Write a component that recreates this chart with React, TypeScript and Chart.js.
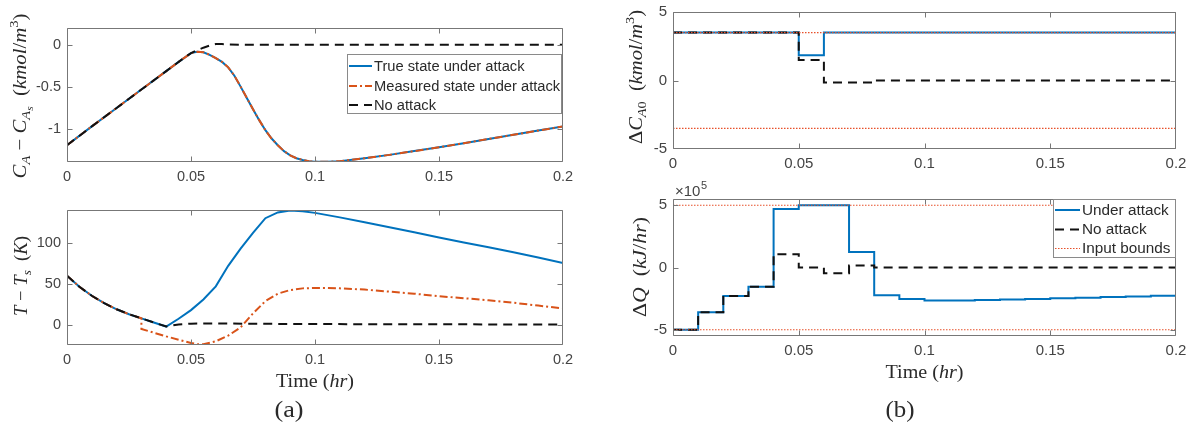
import React, { useEffect, useRef } from "react";
import { Chart, registerables } from "chart.js";

Chart.register(...registerables);

const PAGE_W = 1192;
const PAGE_H = 431;

// ---------------- shared time axis ----------------
const timeTicks = [0, 0.05, 0.1, 0.15, 0.2];

// ---------------- (a) top: C_A - C_As ----------------
const caTime = [0, 0.01, 0.02, 0.03, 0.04, 0.045, 0.05, 0.0525, 0.055, 0.0575, 0.06, 0.0625, 0.065, 0.0675, 0.07, 0.0725, 0.075, 0.0775, 0.08, 0.0825, 0.085, 0.0875, 0.09, 0.0925, 0.095, 0.0975, 0.1, 0.105, 0.11, 0.12, 0.13, 0.14, 0.15, 0.16, 0.17, 0.18, 0.19, 0.2];
const caTrue = [-1.2, -0.975, -0.755, -0.535, -0.315, -0.205, -0.1, -0.085, -0.09, -0.12, -0.16, -0.205, -0.27, -0.37, -0.5, -0.635, -0.77, -0.9, -1.02, -1.12, -1.2, -1.27, -1.32, -1.355, -1.375, -1.39, -1.397, -1.398, -1.39, -1.355, -1.315, -1.27, -1.225, -1.175, -1.125, -1.075, -1.025, -0.975];
const caMeasured = [-1.2, -0.975, -0.755, -0.535, -0.315, -0.205, -0.1, -0.085, -0.09, -0.12, -0.16, -0.205, -0.27, -0.37, -0.5, -0.635, -0.77, -0.9, -1.02, -1.12, -1.2, -1.27, -1.32, -1.355, -1.375, -1.39, -1.397, -1.398, -1.39, -1.355, -1.315, -1.27, -1.225, -1.175, -1.125, -1.075, -1.025, -0.975];
const caNoAttackTime = [0, 0.01, 0.02, 0.03, 0.04, 0.048, 0.05, 0.0525, 0.055, 0.0575, 0.06, 0.0625, 0.065, 0.07, 0.08, 0.1, 0.15, 0.2];
const caNoAttack = [-1.2, -0.975, -0.755, -0.535, -0.315, -0.14, -0.1, -0.065, -0.035, -0.01, 0.008, 0.008, 0.004, 0.001, 0, 0, 0, 0];
const caTicks = [-1, -0.5, 0];

// ---------------- (a) bottom: T - Ts ----------------
const tempTime = [0, 0.005, 0.01, 0.015, 0.02, 0.025, 0.03, 0.035, 0.04, 0.045, 0.05, 0.055, 0.06, 0.065, 0.07, 0.075, 0.08, 0.085, 0.09, 0.095, 0.1, 0.11, 0.12, 0.13, 0.14, 0.15, 0.16, 0.17, 0.18, 0.19, 0.2];
const tempTrue = [60, 46.5, 35.5, 26.5, 19, 13, 8, 3, -2, 7.5, 18, 31, 47, 72, 93, 112, 130, 137, 139.5, 138.5, 136.5, 131, 125, 119, 113, 106.5, 100.5, 94.5, 88.5, 82, 75.5];
const tempMeasuredTime = [0, 0.005, 0.01, 0.015, 0.02, 0.025, 0.03, 0.03, 0.035, 0.04, 0.045, 0.05, 0.0525, 0.055, 0.06, 0.065, 0.07, 0.075, 0.08, 0.085, 0.09, 0.095, 0.1, 0.105, 0.11, 0.12, 0.13, 0.14, 0.15, 0.16, 0.17, 0.18, 0.19, 0.2];
const tempMeasured = [60, 46.5, 35.5, 26.5, 19, 13, 8, -5, -9.5, -14, -18, -22, -23.5, -23.5, -20, -13, -3, 14, 29, 38, 42.5, 44.5, 45, 45, 44.5, 43, 40.5, 38, 35, 32.5, 30, 27, 23.5, 20];
const tempNoAttackTime = [0, 0.005, 0.01, 0.015, 0.02, 0.025, 0.03, 0.035, 0.04, 0.045, 0.05, 0.06, 0.08, 0.1, 0.15, 0.2];
const tempNoAttack = [60, 46.5, 35.5, 26.5, 19, 13, 8, 3, -2, 0.5, 1.5, 1.8, 1.3, 1, 0.7, 0.5];
const tempTicks = [0, 50, 100];

// ---------------- (b) top: ΔC_A0 (zero-order hold) ----------------
const cInTime = [0, 0.05, 0.06, 0.2];
const cInUnder = [3.5, 1.85, 3.5, 3.5];
const cInNoTime = [0, 0.05, 0.06, 0.08, 0.2];
const cInNo = [3.5, 1.5, -0.15, 0, 0];
const boundTime = [0, 0.2];
const cInUpper = [3.5, 3.5];
const cInLower = [-3.5, -3.5];
const cInTicks = [-5, 0, 5];

// ---------------- (b) bottom: ΔQ, in units of 10^5 kJ/hr ----------------
const qTime = [0, 0.01, 0.02, 0.03, 0.04, 0.05, 0.06, 0.07, 0.08, 0.09, 0.1, 0.11, 0.12, 0.13, 0.14, 0.15, 0.16, 0.17, 0.18, 0.19, 0.2];
const qUnder = [-5, -3.6, -2.28, -1.55, 4.7, 5, 5, 1.25, -2.22, -2.52, -2.65, -2.64, -2.6, -2.56, -2.52, -2.47, -2.42, -2.37, -2.32, -2.26, -2.2];
const qNo = [-5, -3.6, -2.28, -1.55, 1.07, 0, -0.46, 0.16, 0, 0, 0, 0, 0, 0, 0, 0, 0, 0, 0, 0, 0];
const qUpper = [5, 5];
const qLower = [-5, -5];
const qTicks = [-5, 0, 5];

// ---------------- styles ----------------
const BLUE = "#0072BD";
const ORANGE = "#D95319";
const BLACK = "#111111";
const RED = "#E8502A";
const AXIS = "#777777";
const TICKTEXT = "#444444";
const TITLE = "#2a2a2a";
const SANS = '"Liberation Sans", Arial, Helvetica, sans-serif';
const SERIF = '"Liberation Serif", "Times New Roman", serif';

const solidBlue = { borderColor: BLUE, borderWidth: 2, borderDash: [] as number[] };
const dashDotOrange = { borderColor: ORANGE, borderWidth: 2, borderDash: [8, 3, 2, 3] };
const dashedBlack = { borderColor: BLACK, borderWidth: 2, borderDash: [9, 6] };
const dottedRed = { borderColor: RED, borderWidth: 1.2, borderDash: [1.5, 1.5] };

const pts = (xs: number[], ys: number[]) => xs.map((x, i) => ({ x, y: ys[i] }));

type Seg = { t: string; it?: boolean; lv?: number };

const caLabel: Seg[] = [
  { t: "C", it: true }, { t: "A", it: true, lv: 1 }, { t: " \u2212 " },
  { t: "C", it: true }, { t: "A", it: true, lv: 1 }, { t: "s", it: true, lv: 2 },
  { t: "  (" }, { t: "kmol", it: true }, { t: "/" }, { t: "m", it: true }, { t: "3", lv: -1 }, { t: ")" },
];
const tempLabel: Seg[] = [
  { t: "T", it: true }, { t: " \u2212 " }, { t: "T", it: true }, { t: "s", it: true, lv: 1 },
  { t: "  (" }, { t: "K", it: true }, { t: ")" },
];
const cInLabel: Seg[] = [
  { t: "\u0394" }, { t: "C", it: true }, { t: "A", it: true, lv: 1 }, { t: "0", lv: 1 },
  { t: "  (" }, { t: "kmol", it: true }, { t: "/" }, { t: "m", it: true }, { t: "3", lv: -1 }, { t: ")" },
];
const qLabel: Seg[] = [
  { t: "\u0394" }, { t: "Q", it: true }, { t: "  (" }, { t: "kJ", it: true }, { t: "/" }, { t: "hr", it: true }, { t: ")" },
];
const timeLabel: Seg[] = [{ t: "Time (" }, { t: "hr", it: true }, { t: ")" }];

function segScale(s: Seg) {
  if (s.lv === 1 || s.lv === -1) return 0.7;
  if (s.lv === 2) return 0.55;
  return 1;
}
function segShift(s: Seg, size: number) {
  if (s.lv === 1) return 0.2 * size;
  if (s.lv === 2) return 0.36 * size;
  if (s.lv === -1) return -0.42 * size;
  return 0;
}
function segFont(s: Seg, size: number) {
  return `${s.it ? "italic " : ""}${(size * segScale(s)).toFixed(2)}px ${SERIF}`;
}

function drawRich(ctx: CanvasRenderingContext2D, segs: Seg[], cx: number, baseline: number, size: number, len: number, vertical: boolean) {
  ctx.save();
  let w = 0;
  const widths: number[] = [];
  for (const s of segs) {
    ctx.font = segFont(s, size);
    const m = ctx.measureText(s.t).width;
    widths.push(m);
    w += m;
  }
  if (vertical) {
    ctx.translate(baseline, cx);
    ctx.rotate(-Math.PI / 2);
  } else {
    ctx.translate(cx, baseline);
  }
  const k = len > 0 ? len / w : 1;
  ctx.scale(k, 1);
  ctx.fillStyle = TITLE;
  ctx.textAlign = "left";
  ctx.textBaseline = "alphabetic";
  let x = -w / 2;
  segs.forEach((s, i) => {
    ctx.font = segFont(s, size);
    ctx.fillText(s.t, x, segShift(s, size));
    x += widths[i];
  });
  ctx.restore();
}

type LegendItem = { label: string; y: number; style: { borderColor: string; borderWidth: number; borderDash: number[] } };
type LegendSpec = { l: number; t: number; r: number; b: number; sx0: number; sx1: number; tx: number; size: number; items: LegendItem[] };

function drawLegend(ctx: CanvasRenderingContext2D, lg: LegendSpec) {
  ctx.save();
  ctx.fillStyle = "#ffffff";
  ctx.fillRect(lg.l, lg.t, lg.r - lg.l, lg.b - lg.t);
  ctx.strokeStyle = "#8a8a8a";
  ctx.lineWidth = 1;
  ctx.setLineDash([]);
  ctx.strokeRect(lg.l + 0.5, lg.t + 0.5, lg.r - lg.l - 1, lg.b - lg.t - 1);
  for (const it of lg.items) {
    ctx.strokeStyle = it.style.borderColor;
    ctx.lineWidth = it.style.borderWidth;
    ctx.setLineDash(it.style.borderDash);
    ctx.beginPath();
    ctx.moveTo(lg.sx0, it.y);
    ctx.lineTo(lg.sx1, it.y);
    ctx.stroke();
    ctx.setLineDash([]);
    ctx.fillStyle = TITLE;
    ctx.font = `${lg.size}px ${SANS}`;
    ctx.textBaseline = "middle";
    ctx.textAlign = "left";
    ctx.fillText(it.label, lg.tx, it.y + 0.5);
  }
  ctx.restore();
}

type PanelSpec = {
  area: { l: number; t: number; r: number; b: number };
  yMin: number;
  yMax: number;
  yTicks: number[];
  tickSize: number;
  datasets: any[];
  yTitle: { segs: Seg[]; x: number; cy: number; len: number; size: number };
  xTitle?: { cx: number; y: number; len: number; size: number };
  caption?: { text: string; cx: number; y: number; len: number; size: number };
  legend?: LegendSpec;
  extra?: (ctx: CanvasRenderingContext2D) => void;
};

function decorPlugin(p: PanelSpec) {
  return {
    id: "decor",
    afterDraw(chart: any) {
      const ctx = chart.ctx as CanvasRenderingContext2D;
      const a = chart.chartArea;
      const xs = chart.scales.x;
      const ys = chart.scales.y;
      const L = a.left + 0.5, R = a.right - 0.5, T = a.top + 0.5, B = a.bottom - 0.5;
      ctx.save();
      ctx.strokeStyle = AXIS;
      ctx.lineWidth = 1;
      ctx.setLineDash([]);
      ctx.beginPath();
      ctx.rect(L, T, R - L, B - T);
      const tl = 5;
      for (const v of timeTicks) {
        const px = Math.min(Math.max(Math.round(xs.getPixelForValue(v)) + 0.5, L), R);
        ctx.moveTo(px, B); ctx.lineTo(px, B - tl);
        ctx.moveTo(px, T); ctx.lineTo(px, T + tl);
      }
      for (const v of p.yTicks) {
        const py = Math.min(Math.max(Math.round(ys.getPixelForValue(v)) + 0.5, T), B);
        ctx.moveTo(L, py); ctx.lineTo(L + tl, py);
        ctx.moveTo(R, py); ctx.lineTo(R - tl, py);
      }
      ctx.stroke();
      ctx.restore();
      if (p.legend) drawLegend(ctx, p.legend);
      const yt = p.yTitle;
      drawRich(ctx, yt.segs, yt.cy, yt.x, yt.size, yt.len, true);
      if (p.xTitle) drawRich(ctx, timeLabel, p.xTitle.cx, p.xTitle.y, p.xTitle.size, p.xTitle.len, false);
      if (p.caption) drawRich(ctx, [{ t: p.caption.text }], p.caption.cx, p.caption.y, p.caption.size, p.caption.len, false);
      if (p.extra) p.extra(ctx);
    },
  };
}

function buildConfig(p: PanelSpec): any {
  const YW = 50;
  const XH = 30;
  const tickFont = { family: SANS, size: p.tickSize };
  return {
    type: "line",
    data: { datasets: p.datasets },
    options: {
      animation: false,
      responsive: false,
      devicePixelRatio: 1,
      events: [],
      layout: {
        padding: { left: p.area.l - YW, top: p.area.t, right: PAGE_W - p.area.r, bottom: PAGE_H - p.area.b - XH },
      },
      plugins: { legend: { display: false }, tooltip: { enabled: false } },
      elements: { point: { radius: 0 }, line: { tension: 0 } },
      scales: {
        x: {
          type: "linear",
          min: 0,
          max: 0.2,
          afterBuildTicks: (s: any) => { s.ticks = timeTicks.map((value) => ({ value })); },
          afterFit: (s: any) => { s.height = XH; s.paddingLeft = 0; s.paddingRight = 0; },
          grid: { display: false, drawTicks: false },
          border: { display: false },
          ticks: { color: TICKTEXT, font: tickFont, padding: 6, maxRotation: 0, autoSkip: false, callback: (v: number) => String(v) },
        },
        y: {
          type: "linear",
          min: p.yMin,
          max: p.yMax,
          afterBuildTicks: (s: any) => { s.ticks = p.yTicks.map((value) => ({ value })); },
          afterFit: (s: any) => { s.width = YW; s.paddingTop = 0; s.paddingBottom = 0; },
          grid: { display: false, drawTicks: false },
          border: { display: false },
          ticks: { color: TICKTEXT, font: tickFont, padding: 6, autoSkip: false, callback: (v: number) => String(v) },
        },
      },
    },
    plugins: [decorPlugin(p)],
  };
}

const panels: PanelSpec[] = [
  {
    area: { l: 67, t: 28, r: 563, b: 162 },
    yMin: -1.4,
    yMax: 0.2,
    yTicks: caTicks,
    tickSize: 14.5,
    datasets: [
      { data: pts(caNoAttackTime, caNoAttack), ...dashedBlack, order: 0 },
      { data: pts(caTime, caMeasured), ...dashDotOrange, order: 1 },
      { data: pts(caTime, caTrue), ...solidBlue, order: 2 },
    ],
    yTitle: { segs: caLabel, x: 26, cy: 96, len: 165, size: 18.5 },
    legend: {
      l: 347, t: 54, r: 562, b: 114, sx0: 349, sx1: 372, tx: 374, size: 14.7,
      items: [
        { label: "True state under attack", y: 66, style: solidBlue },
        { label: "Measured state under attack", y: 86, style: dashDotOrange },
        { label: "No attack", y: 105, style: dashedBlack },
      ],
    },
  },
  {
    area: { l: 67, t: 210, r: 563, b: 345 },
    yMin: -24.5,
    yMax: 140,
    yTicks: tempTicks,
    tickSize: 14.5,
    datasets: [
      { data: pts(tempNoAttackTime, tempNoAttack), ...dashedBlack, order: 0 },
      { data: pts(tempMeasuredTime, tempMeasured), ...dashDotOrange, order: 1 },
      { data: pts(tempTime, tempTrue), ...solidBlue, order: 2 },
    ],
    yTitle: { segs: tempLabel, x: 27, cy: 276, len: 80, size: 18.5 },
    xTitle: { cx: 315, y: 387, len: 78, size: 18 },
    caption: { text: "(a)", cx: 289, y: 417, len: 29, size: 23 },
  },
  {
    area: { l: 673, t: 12, r: 1176, b: 149 },
    yMin: -5,
    yMax: 5,
    yTicks: cInTicks,
    tickSize: 15,
    datasets: [
      { data: pts(boundTime, cInUpper), ...dottedRed, order: 0 },
      { data: pts(boundTime, cInLower), ...dottedRed, order: 0 },
      { data: pts(cInNoTime, cInNo), ...dashedBlack, stepped: true, order: 1 },
      { data: pts(cInTime, cInUnder), ...solidBlue, stepped: true, order: 2 },
    ],
    yTitle: { segs: cInLabel, x: 642, cy: 77, len: 134, size: 18.5 },
  },
  {
    area: { l: 673, t: 199, r: 1176, b: 336 },
    yMin: -5.5,
    yMax: 5.5,
    yTicks: qTicks,
    tickSize: 15,
    datasets: [
      { data: pts(boundTime, qUpper), ...dottedRed, order: 0 },
      { data: pts(boundTime, qLower), ...dottedRed, order: 0 },
      { data: pts(qTime, qNo), ...dashedBlack, stepped: true, order: 1 },
      { data: pts(qTime, qUnder), ...solidBlue, stepped: true, order: 2 },
    ],
    yTitle: { segs: qLabel, x: 646, cy: 267, len: 100, size: 18.5 },
    xTitle: { cx: 924.5, y: 378, len: 78, size: 18 },
    caption: { text: "(b)", cx: 900, y: 417, len: 29, size: 23 },
    legend: {
      l: 1053, t: 199, r: 1176, b: 258, sx0: 1055, sx1: 1080, tx: 1082, size: 15.3,
      items: [
        { label: "Under attack", y: 210, style: solidBlue },
        { label: "No attack", y: 229.5, style: dashedBlack },
        { label: "Input bounds", y: 248.5, style: dottedRed },
      ],
    },
    extra: (ctx) => {
      ctx.save();
      ctx.fillStyle = TICKTEXT;
      ctx.textBaseline = "alphabetic";
      ctx.textAlign = "left";
      ctx.font = `15px ${SANS}`;
      const base = "\u00d710";
      ctx.fillText(base, 675, 196);
      const w = ctx.measureText(base).width;
      ctx.font = `11px ${SANS}`;
      ctx.fillText("5", 675 + w + 0.5, 189);
      ctx.restore();
    },
  },
];

function Panel({ spec }: { spec: PanelSpec }) {
  const ref = useRef<HTMLCanvasElement>(null);
  useEffect(() => {
    const chart = new Chart(ref.current as HTMLCanvasElement, buildConfig(spec));
    return () => chart.destroy();
  }, [spec]);
  return (
    <canvas
      ref={ref}
      width={PAGE_W}
      height={PAGE_H}
      style={{ position: "absolute", left: 0, top: 0, width: PAGE_W, height: PAGE_H }}
    />
  );
}

export default function App() {
  return (
    <div style={{ position: "absolute", left: 0, top: 0, width: PAGE_W, height: PAGE_H, background: "#ffffff", overflow: "hidden" }}>
      {panels.map((p, i) => (
        <Panel key={i} spec={p} />
      ))}
    </div>
  );
}
